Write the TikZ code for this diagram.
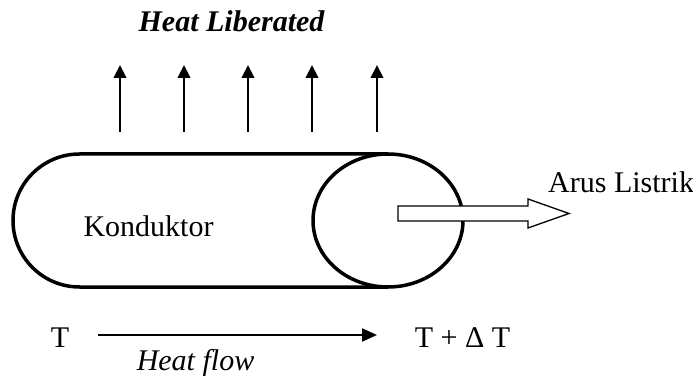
\documentclass[tikz,border=0pt]{standalone}
\usepackage{fontspec}
\setmainfont{Liberation Serif}
\usetikzlibrary{arrows.meta}
\begin{document}
\begin{tikzpicture}[x=1pt,y=1pt,
  lbl/.style={inner sep=0pt,anchor=base,font=\fontsize{30}{36}\selectfont},
  uparrow/.style={line width=2.2pt,-{Triangle[length=13pt,width=12.5pt]}},
  flowarrow/.style={line width=2.2pt,-{Triangle[length=15pt,width=13pt]}},
  body/.style={line width=3.5pt},
  hollow/.style={line width=1.3pt,fill=white,line join=miter}]
\useasboundingbox (0,0) rectangle (693,375);
% title
\node[lbl,font=\fontsize{30}{36}\selectfont\bfseries\itshape] (hl) at (231.5,343) {Heat Liberated};
% heat arrows
\foreach \i/\x in {1/120,2/184,3/248,4/312,5/377}{
  \coordinate (a\i) at (\x,243);
  \coordinate (b\i) at (\x,310);
  \draw[uparrow] (a\i) -- (b\i);
}
% conductor body
\coordinate (tr) at (388,221);
\coordinate (tl) at (79.5,221);
\coordinate (bl) at (79.5,88);
\coordinate (br) at (388,88);
\draw[body] (tr) -- (tl) arc[start angle=90,end angle=270,radius=66.5] -- (br);
\draw[body] (388,154.5) ellipse[x radius=75,y radius=66.5];
% hollow current arrow
\draw[hollow] (398,154) -- (528,154) -- (528,147) -- (569,161.5) -- (528,176) -- (528,169) -- (398,169) -- cycle;
\node[lbl,anchor=base west] (al) at (548,182) {Arus Listrik};
\node[lbl] (kd) at (148.5,139) {Konduktor};
% bottom
\node[lbl] (t1) at (60,28) {T};
\node[lbl] (t2) at (462.5,28) {T + Δ T};
\coordinate (hs) at (98,40);
\coordinate (he) at (377,40);
\draw[flowarrow] (hs) -- (he);
\node[lbl,font=\fontsize{30}{36}\selectfont\itshape] (hf) at (195.5,5) {Heat flow};
\end{tikzpicture}
\end{document}
